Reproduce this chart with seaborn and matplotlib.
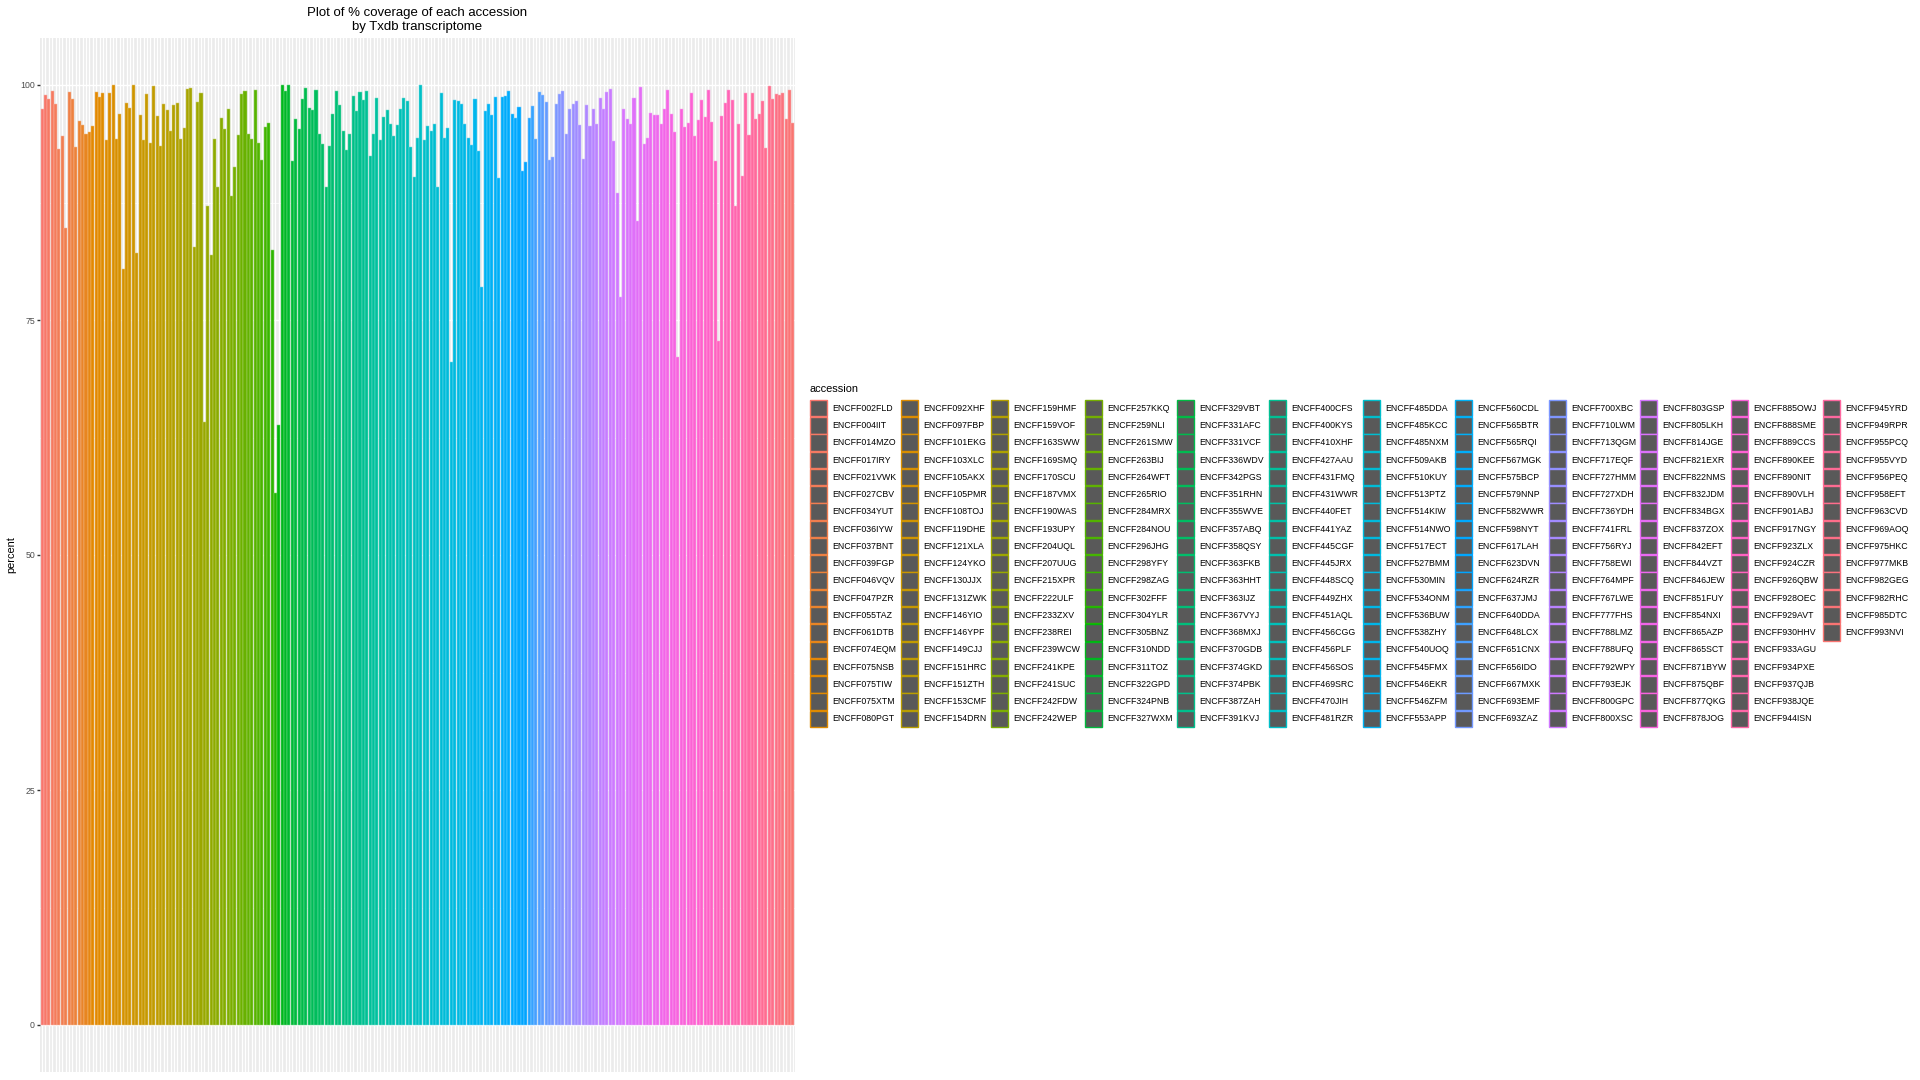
import numpy as np
import pandas as pd
import matplotlib
matplotlib.use("Agg")
import matplotlib.pyplot as plt
from matplotlib.patches import Patch
import seaborn as sns

# ---------------- data ----------------
accessions = [
    "ENCFF002FLD", "ENCFF004IIT", "ENCFF014MZO", "ENCFF017IRY", "ENCFF021VWK", "ENCFF027CBV", "ENCFF034YUT",
    "ENCFF036IYW", "ENCFF037BNT", "ENCFF039FGP", "ENCFF046VQV", "ENCFF047PZR", "ENCFF055TAZ", "ENCFF061DTB",
    "ENCFF074EQM", "ENCFF075NSB", "ENCFF075TIW", "ENCFF075XTM", "ENCFF080PGT",
    "ENCFF092XHF", "ENCFF097FBP", "ENCFF101EKG", "ENCFF103XLC", "ENCFF105AKX", "ENCFF105PMR", "ENCFF108TOJ",
    "ENCFF119DHE", "ENCFF121XLA", "ENCFF124YKO", "ENCFF130JJX", "ENCFF131ZWK", "ENCFF146YIO", "ENCFF146YPF",
    "ENCFF149CJJ", "ENCFF151HRC", "ENCFF151ZTH", "ENCFF153CMF", "ENCFF154DRN",
    "ENCFF159HMF", "ENCFF159VOF", "ENCFF163SWW", "ENCFF169SMQ", "ENCFF170SCU", "ENCFF187VMX", "ENCFF190WAS",
    "ENCFF193UPY", "ENCFF204UQL", "ENCFF207UUG", "ENCFF215XPR", "ENCFF222ULF", "ENCFF233ZXV", "ENCFF238REI",
    "ENCFF239WCW", "ENCFF241KPE", "ENCFF241SUC", "ENCFF242FDW", "ENCFF242WEP",
    "ENCFF257KKQ", "ENCFF259NLI", "ENCFF261SMW", "ENCFF263BIJ", "ENCFF264WFT", "ENCFF265RIO", "ENCFF284MRX",
    "ENCFF284NOU", "ENCFF296JHG", "ENCFF298YFY", "ENCFF298ZAG", "ENCFF302FFF", "ENCFF304YLR", "ENCFF305BNZ",
    "ENCFF310NDD", "ENCFF311TOZ", "ENCFF322GPD", "ENCFF324PNB", "ENCFF327WXM",
    "ENCFF329VBT", "ENCFF331AFC", "ENCFF331VCF", "ENCFF336WDV", "ENCFF342PGS", "ENCFF351RHN", "ENCFF355WVE",
    "ENCFF357ABQ", "ENCFF358QSY", "ENCFF363FKB", "ENCFF363HHT", "ENCFF363IJZ", "ENCFF367VYJ", "ENCFF368MXJ",
    "ENCFF370GDB", "ENCFF374GKD", "ENCFF374PBK", "ENCFF387ZAH", "ENCFF391KVJ",
    "ENCFF400CFS", "ENCFF400KYS", "ENCFF410XHF", "ENCFF427AAU", "ENCFF431FMQ", "ENCFF431WWR", "ENCFF440FET",
    "ENCFF441YAZ", "ENCFF445CGF", "ENCFF445JRX", "ENCFF448SCQ", "ENCFF449ZHX", "ENCFF451AQL", "ENCFF456CGG",
    "ENCFF456PLF", "ENCFF456SOS", "ENCFF469SRC", "ENCFF470JIH", "ENCFF481RZR",
    "ENCFF485DDA", "ENCFF485KCC", "ENCFF485NXM", "ENCFF509AKB", "ENCFF510KUY", "ENCFF513PTZ", "ENCFF514KIW",
    "ENCFF514NWO", "ENCFF517ECT", "ENCFF527BMM", "ENCFF530MIN", "ENCFF534ONM", "ENCFF536BUW", "ENCFF538ZHY",
    "ENCFF540UOQ", "ENCFF545FMX", "ENCFF546EKR", "ENCFF546ZFM", "ENCFF553APP",
    "ENCFF560CDL", "ENCFF565BTR", "ENCFF565RQI", "ENCFF567MGK", "ENCFF575BCP", "ENCFF579NNP", "ENCFF582WWR",
    "ENCFF598NYT", "ENCFF617LAH", "ENCFF623DVN", "ENCFF624RZR", "ENCFF637JMJ", "ENCFF640DDA", "ENCFF648LCX",
    "ENCFF651CNX", "ENCFF656IDO", "ENCFF667MXK", "ENCFF693EMF", "ENCFF693ZAZ",
    "ENCFF700XBC", "ENCFF710LWM", "ENCFF713QGM", "ENCFF717EQF", "ENCFF727HMM", "ENCFF727XDH", "ENCFF736YDH",
    "ENCFF741FRL", "ENCFF756RYJ", "ENCFF758EWI", "ENCFF764MPF", "ENCFF767LWE", "ENCFF777FHS", "ENCFF788LMZ",
    "ENCFF788UFQ", "ENCFF792WPY", "ENCFF793EJK", "ENCFF800GPC", "ENCFF800XSC",
    "ENCFF803GSP", "ENCFF805LKH", "ENCFF814JGE", "ENCFF821EXR", "ENCFF822NMS", "ENCFF832JDM", "ENCFF834BGX",
    "ENCFF837ZOX", "ENCFF842EFT", "ENCFF844VZT", "ENCFF846JEW", "ENCFF851FUY", "ENCFF854NXI", "ENCFF865AZP",
    "ENCFF865SCT", "ENCFF871BYW", "ENCFF875QBF", "ENCFF877QKG", "ENCFF878JOG",
    "ENCFF885OWJ", "ENCFF888SME", "ENCFF889CCS", "ENCFF890KEE", "ENCFF890NIT", "ENCFF890VLH", "ENCFF901ABJ",
    "ENCFF917NGY", "ENCFF923ZLX", "ENCFF924CZR", "ENCFF926QBW", "ENCFF928OEC", "ENCFF929AVT", "ENCFF930HHV",
    "ENCFF933AGU", "ENCFF934PXE", "ENCFF937QJB", "ENCFF938JQE", "ENCFF944ISN",
    "ENCFF945YRD", "ENCFF949RPR", "ENCFF955PCQ", "ENCFF955VYD", "ENCFF956PEQ", "ENCFF958EFT", "ENCFF963CVD",
    "ENCFF969AOQ", "ENCFF975HKC", "ENCFF977MKB", "ENCFF982GEG", "ENCFF982RHC", "ENCFF985DTC", "ENCFF993NVI",
]

percent = [
    97.5, 98.9, 98.5, 99.4, 98.0, 93.2, 94.6, 84.8, 99.3, 98.5, 93.4, 96.2, 95.7, 94.8, 95.0, 95.6, 99.3, 98.7,
    99.2, 94.1, 99.1, 100.0, 94.3, 96.9, 80.4, 98.1, 97.6, 100.0, 82.1, 96.8, 94.2, 99.0, 93.8, 99.9, 96.7, 93.5,
    98.0, 97.3, 95.1,
    97.9, 98.1, 94.3, 95.4, 99.6, 99.7, 82.8, 98.2, 99.2, 64.1, 87.1, 81.9, 94.3, 89.2, 96.5, 95.3, 97.5, 88.2,
    91.3, 94.7, 99.0, 99.4, 94.8, 94.3, 99.5, 93.8, 92.0, 95.5, 96.0, 82.4, 56.6, 63.8, 100.0, 99.4, 100.0, 91.9,
    96.4, 95.3,
    98.5, 99.7, 97.6, 97.3, 99.5, 94.8, 93.7, 89.2, 93.5, 96.9, 99.4, 97.9, 95.1, 93.1, 94.8, 98.8, 97.2, 99.3,
    98.4, 99.4, 92.4, 94.8, 98.6, 94.2, 96.6, 97.3, 95.9, 94.6, 95.7, 97.4, 98.6, 98.3, 93.4, 90.2, 94.4, 100.0,
    94.2,
    95.6, 95.1, 95.8, 89.2, 99.1, 94.4, 95.4, 70.5, 98.4, 98.3, 98.0, 95.8, 94.4, 93.6, 98.5, 93.0, 78.5, 97.2,
    98.0, 96.8, 98.7, 90.1, 98.7, 98.8, 99.4, 96.9, 96.5, 97.7, 90.8, 91.8, 96.5, 97.8, 94.3, 99.3, 98.9, 98.2,
    92.0, 92.3,
    98.0, 99.0, 99.4, 94.8, 97.5, 98.0, 98.3, 95.7, 92.1, 97.9, 95.6, 97.4, 95.9, 98.6, 97.4, 99.3, 99.6, 94.0,
    88.5, 77.5, 97.5, 96.4, 95.8, 98.6, 85.5, 99.8, 93.7, 94.4, 97.0, 96.8, 96.8, 95.9, 97.4, 99.5, 96.9,
    95.0, 71.1, 97.5, 95.5, 96.0, 99.2, 94.6, 96.3, 98.4, 96.6, 99.5, 96.1, 91.9, 72.8, 96.7, 98.1, 99.5, 98.4,
    87.1, 95.9, 90.3, 99.1, 94.7, 99.2, 96.4, 96.9, 98.3, 93.3, 99.9, 98.5, 99.0, 98.9, 99.1, 96.4, 99.5, 96.0,
]

y_ticks = [0, 25, 50, 75, 100]
y_minor = [12.5, 37.5, 62.5, 87.5]
title_text = "Plot of % coverage of each accession\nby Txdb transcriptome"


# ---------------- ggplot-like hue palette ----------------
def hcl_to_rgb(h, c=100.0, l=65.0):
    Xn, Yn, Zn = 95.047, 100.0, 108.883
    hr = np.deg2rad(h)
    u, v = c * np.cos(hr), c * np.sin(hr)
    Y = Yn * ((l + 16) / 116) ** 3 if l > 8 else Yn * l / 903.3
    den = Xn + 15 * Yn + 3 * Zn
    un, vn = 4 * Xn / den, 9 * Yn / den
    up = u / (13 * l) + un
    vp = v / (13 * l) + vn
    X = 9.0 * Y * up / (4 * vp)
    Z = -X / 3 - 5 * Y + 3 * Y / vp
    X, Y, Z = X / 100, Y / 100, Z / 100
    r = 3.240479 * X - 1.537150 * Y - 0.498535 * Z
    g = -0.969256 * X + 1.875992 * Y + 0.041556 * Z
    b = 0.055648 * X - 0.204043 * Y + 1.057311 * Z

    def gam(t):
        t = 1.055 * t ** (1 / 2.4) - 0.055 if t > 0.0031308 else 12.92 * t
        return min(max(t, 0.0), 1.0)

    return tuple(round(gam(t) * 255) / 255 for t in (r, g, b))


n = len(accessions)
hues = np.linspace(15, 375, n + 1)[:n]
colors = [hcl_to_rgb(h) for h in hues]
palette = dict(zip(accessions, colors))
light_edges = [tuple(0.55 * ch + 0.45 for ch in c) for c in colors]

df = pd.DataFrame({"accession": accessions, "percent": percent})

# ---------------- figure ----------------
plt.rcParams["font.family"] = ["Liberation Sans", "DejaVu Sans"]
fig = plt.figure(figsize=(19.2, 10.8), dpi=100, facecolor="white")
W, H = 1920, 1080
ax = fig.add_axes([40 / W, 1 - 1072 / H, (795 - 40) / W, (1072 - 38) / H])
ax.set_facecolor("#EBEBEB")

sns.barplot(data=df, x="accession", y="percent", hue="accession", order=accessions,
            hue_order=accessions, palette=palette, width=0.9, saturation=1,
            errorbar=None, legend=False, linewidth=0, ax=ax)
for patch, ec in zip(ax.patches, light_edges):
    patch.set_edgecolor(ec)
    patch.set_linewidth(0.35)

ax.set_xlim(-0.6, n - 1 + 0.6)
ax.set_ylim(-5, 105)
ax.set_axisbelow(True)
ax.set_xticks(range(n))
ax.set_xticklabels([])
ax.tick_params(axis="x", length=0)
ax.set_yticks(y_ticks)
ax.set_yticklabels([str(t) for t in y_ticks])
ax.set_yticks(y_minor, minor=True)
ax.tick_params(axis="y", which="major", length=2.0, width=1.0, color="#333333",
               labelsize=6.3, labelcolor="#4D4D4D", pad=1.6)
ax.tick_params(axis="y", which="minor", length=0)
ax.xaxis.grid(True, color="white", linewidth=1.0)
ax.yaxis.grid(True, which="major", color="white", linewidth=1.0)
ax.yaxis.grid(True, which="minor", color="white", linewidth=0.5)
for s in ax.spines.values():
    s.set_visible(False)
ax.set_xlabel("")
ax.set_ylabel("percent", fontsize=7.9, labelpad=2.5, color="black")
ax.set_title(title_text, fontsize=9.5, pad=5.5, linespacing=1.3)

# ---------------- legend ----------------
handles = [Patch(facecolor="#595959", edgecolor=c, linewidth=1.0) for c in colors]
labels = list(accessions)
ncol = 12
nrow = 19
pad_n = ncol * nrow - n
handles += [Patch(facecolor="none", edgecolor="none") for _ in range(pad_n)]
labels += [""] * pad_n

leg = fig.legend(handles, labels, loc="upper left", bbox_to_anchor=(810 / W, 1 - 384 / H),
                 ncol=ncol, frameon=False, fontsize=6.3, title="accession", title_fontsize=7.9,
                 alignment="left", handlelength=1.94, handleheight=2.52, labelspacing=0.09,
                 handletextpad=0.6, columnspacing=0.52, borderpad=0, borderaxespad=0)
leg._legend_box.sep = 4.2

fig.savefig("out.png", dpi=100, facecolor="white")
